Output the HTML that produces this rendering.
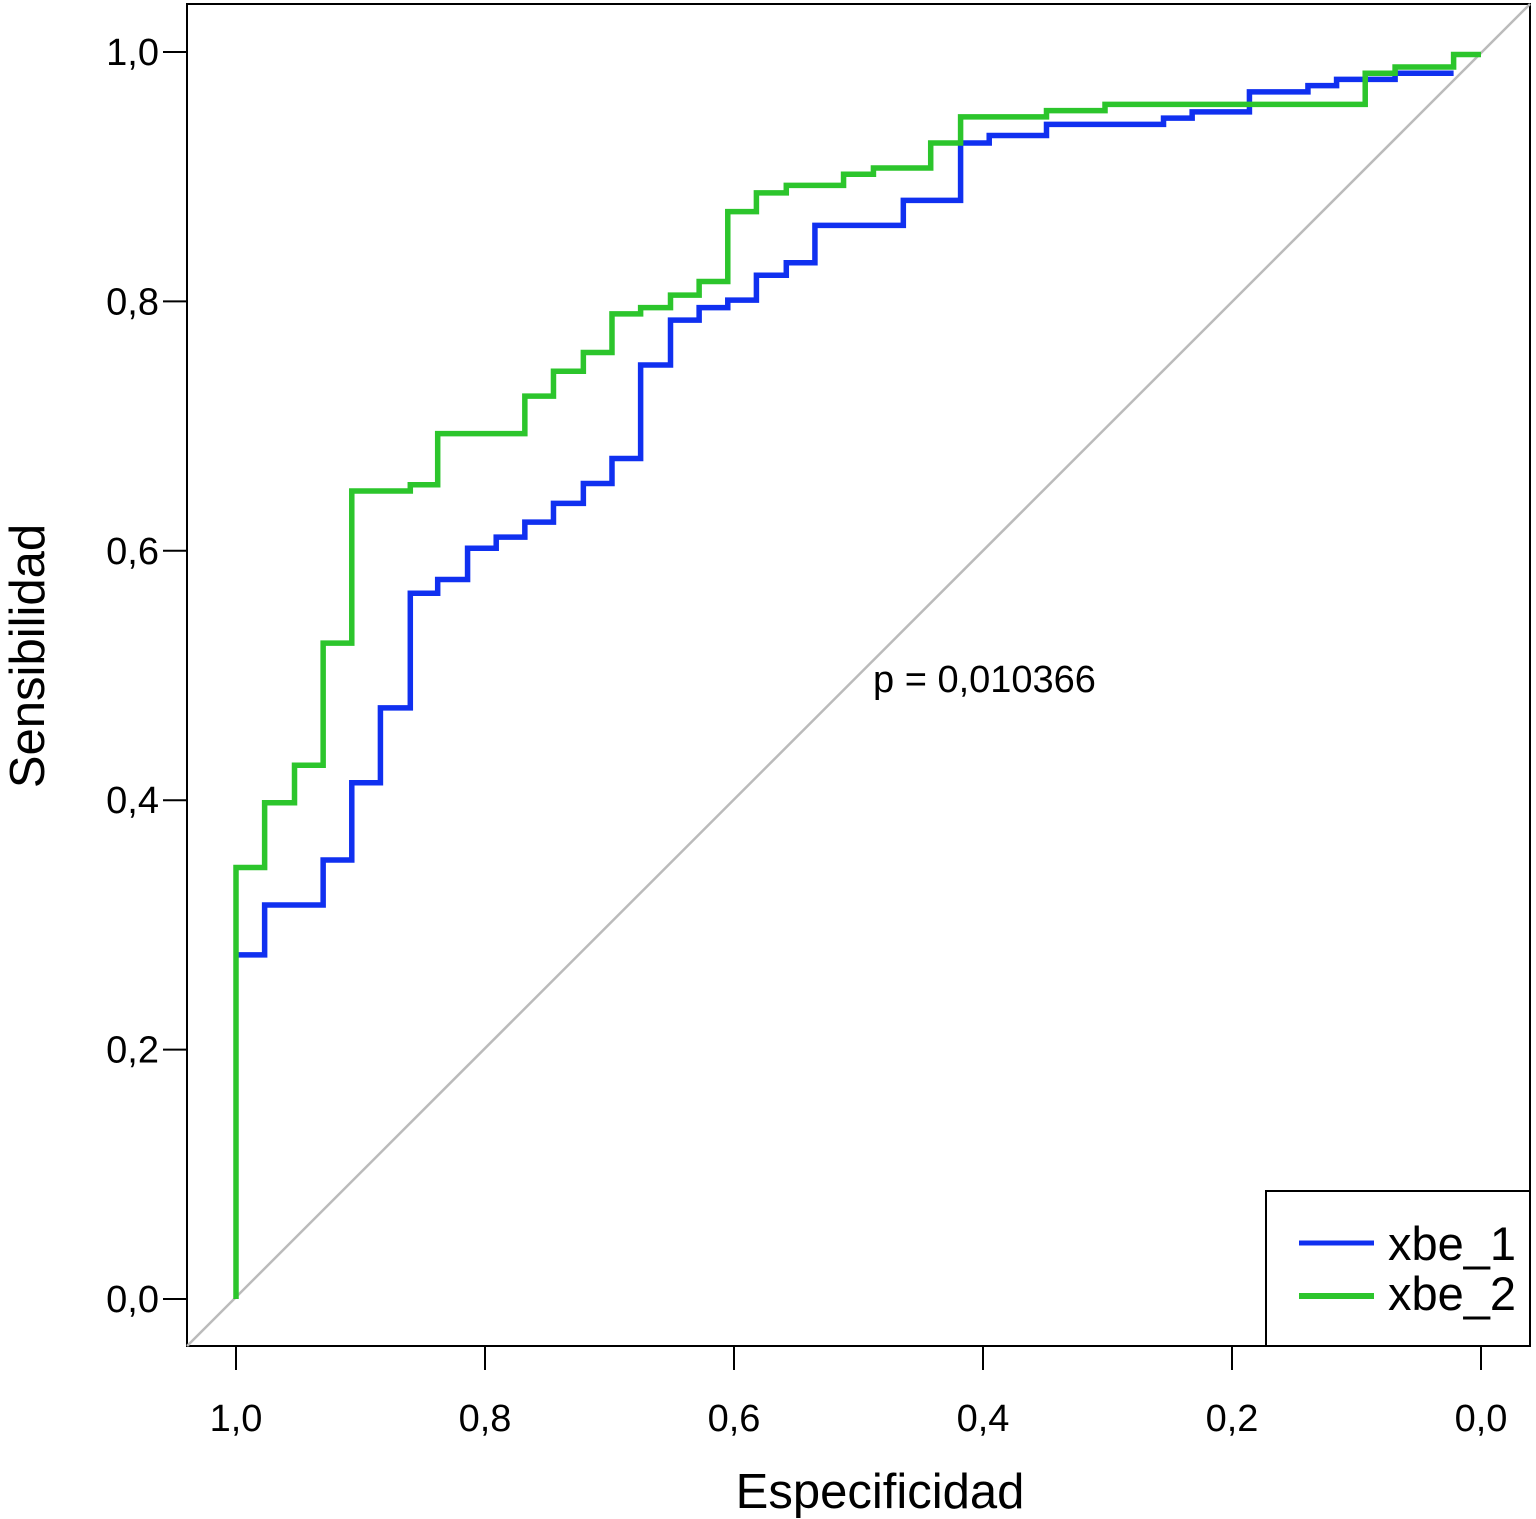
<!DOCTYPE html>
<html><head><meta charset="utf-8"><style>
html,body{margin:0;padding:0;background:#fff;}
svg{display:block;font-family:"Liberation Sans",Arial,sans-serif;}
</style></head><body>
<svg id="chart" width="1536" height="1519" viewBox="0 0 1536 1519" xmlns="http://www.w3.org/2000/svg">
<rect x="187" y="4" width="1343" height="1342" fill="#fff" stroke="#000" stroke-width="2"/>
<g id="axes"></g>
<g id="series"></g>
<text x="873" y="692" font-size="38">p = 0,010366</text>
<text x="880" y="1508" font-size="49" text-anchor="middle">Especificidad</text>
<text transform="translate(44,656) rotate(-90)" font-size="49" text-anchor="middle">Sensibilidad</text>
<g>
<rect x="1266" y="1191" width="264" height="155" fill="#fff" stroke="#000" stroke-width="2"/>
<line x1="1299" y1="1243" x2="1374" y2="1243" stroke="#1030f0" stroke-width="5"/>
<text x="1388" y="1260" font-size="47">xbe_1</text>
<line x1="1299" y1="1296" x2="1374" y2="1296" stroke="#2cc52c" stroke-width="6"/>
<text x="1388" y="1310" font-size="47">xbe_2</text>
</g>
</svg>
<script>
const xTicks=[1.0,0.8,0.6,0.4,0.2,0.0];
const xTickLabels=["1,0","0,8","0,6","0,4","0,2","0,0"];
const yTicks=[0.0,0.2,0.4,0.6,0.8,1.0];
const yTickLabels=["0,0","0,2","0,4","0,6","0,8","1,0"];
const blueSpec=[1.0,0.977,0.930,0.907,0.884,0.860,0.838,0.814,0.791,0.768,0.745,0.721,0.698,0.675,0.651,0.628,0.605,0.582,0.558,0.535,0.464,0.418,0.395,0.349,0.255,0.232,0.186,0.139,0.116,0.069];
const blueSens=[0.276,0.316,0.352,0.414,0.474,0.566,0.577,0.602,0.611,0.623,0.638,0.654,0.674,0.749,0.785,0.795,0.801,0.821,0.831,0.861,0.881,0.927,0.933,0.942,0.947,0.952,0.968,0.973,0.978,0.983];
const blueEnd=0.022;
const greenSpec=[1.0,1.0,0.977,0.953,0.930,0.907,0.860,0.838,0.768,0.745,0.721,0.698,0.675,0.651,0.628,0.605,0.582,0.558,0.512,0.488,0.442,0.418,0.349,0.302,0.093,0.069,0.022];
const greenSens=[0.0,0.346,0.398,0.428,0.526,0.648,0.653,0.694,0.724,0.744,0.759,0.790,0.795,0.805,0.816,0.872,0.887,0.893,0.902,0.907,0.927,0.948,0.953,0.958,0.983,0.988,0.998];
const greenEnd=0.0;

const NS="http://www.w3.org/2000/svg";
const X=v=>1481-v*1245;
const Y=v=>1299-v*1247;
const axes=document.getElementById('axes');
const series=document.getElementById('series');
function mk(tag,attrs,parent){const e=document.createElementNS(NS,tag);for(const k in attrs)e.setAttribute(k,attrs[k]);parent.appendChild(e);return e;}

xTicks.forEach((t,i)=>{
  const l=mk('line',{x1:X(t),x2:X(t),y1:1346,y2:1370,stroke:'#000','stroke-width':2},axes);
  
  
  const tx=mk('text',{x:X(t),y:1431,'font-size':38,'text-anchor':'middle'},axes);
  tx.textContent=xTickLabels[i];
  
  
});
yTicks.forEach((t,i)=>{
  const l=mk('line',{x1:163,x2:187,y1:Y(t),y2:Y(t),stroke:'#000','stroke-width':2},axes);
  
  
  const tx=mk('text',{x:159,y:Y(t)+13,'font-size':38,'text-anchor':'end'},axes);
  tx.textContent=yTickLabels[i];
  
  
});
const dg=mk('line',{x1:X(1.0393),y1:Y(-0.0377),x2:X(-0.0394),y2:Y(1.0385),stroke:'#bbb','stroke-width':2.5},series);



function step(spec,sens,end,color,w,name){
  let d='M'+X(spec[0])+','+Y(sens[0]);
  for(let i=0;i<spec.length;i++){
    d+=' V'+Y(sens[i]);
    d+=' H'+X(i+1<spec.length?spec[i+1]:end);
  }
  const p=mk('path',{d:d,fill:'none',stroke:color,'stroke-width':w,'stroke-linejoin':'miter','stroke-linecap':'butt'},series);
  
  
}
step(blueSpec,blueSens,blueEnd,'#1030f0',5.5,'roc-curve-xbe-1');
step(greenSpec,greenSens,greenEnd,'#2cc52c',5.5,'roc-curve-xbe-2');
</script>
</body></html>
